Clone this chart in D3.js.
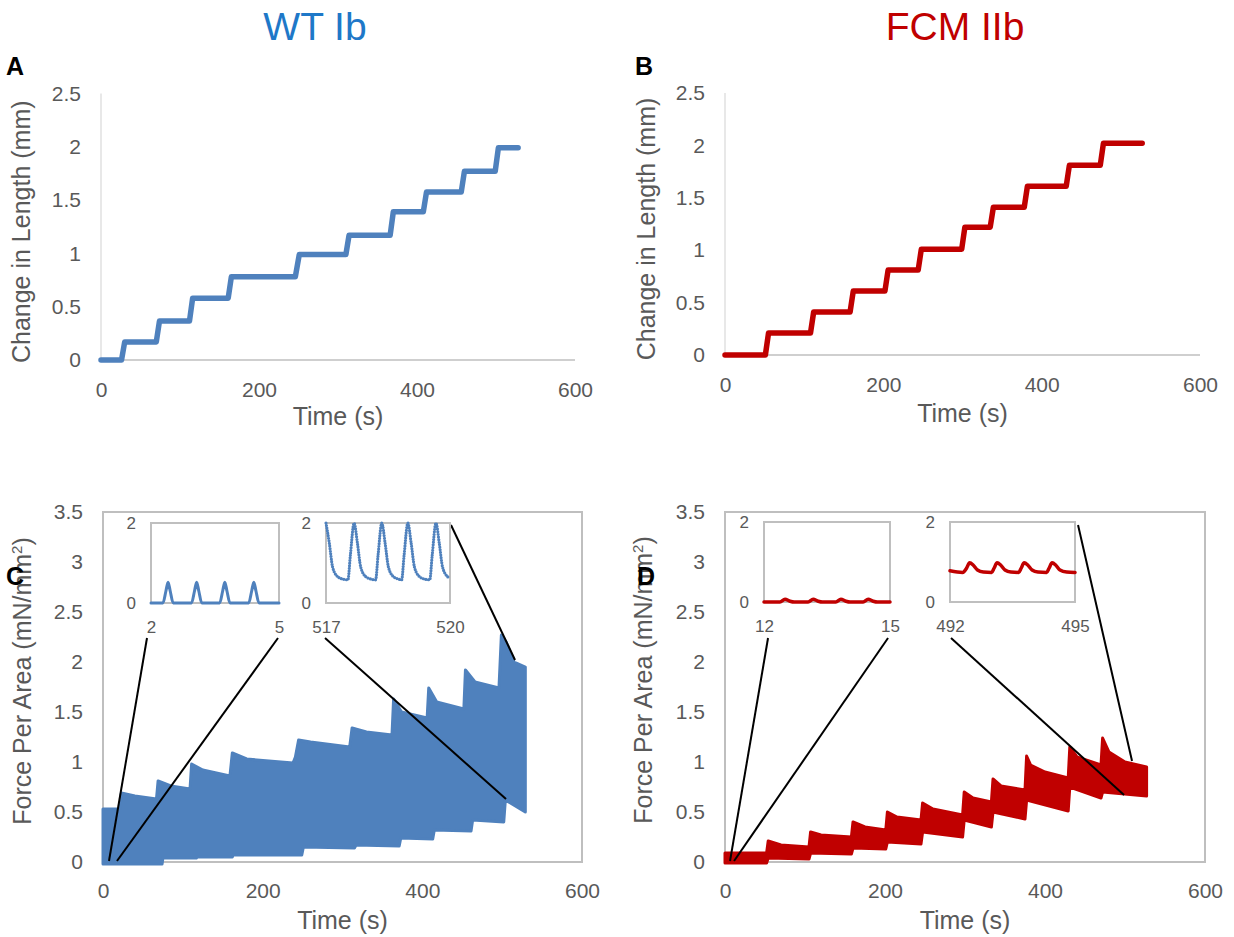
<!DOCTYPE html>
<html><head><meta charset="utf-8">
<script src="https://cdn.jsdelivr.net/npm/d3@7"></script>
<style>
body{margin:0;background:#fff;}
svg text{font-family:"Liberation Sans",Arial,sans-serif;}
</style>
</head><body>
<svg id="fig" width="1234" height="937"></svg>
<script>
// ---------------- DATA ----------------
const timeTicks = [0, 200, 400, 600];
const lengthTicks = [0, 0.5, 1, 1.5, 2, 2.5];
const forceTicks = [0, 0.5, 1, 1.5, 2, 2.5, 3, 3.5];

// Change in length (mm) vs time (s) – step protocol vertices
const wtLengthT = [0, 26, 30, 70, 74, 112, 116, 161, 165, 246, 251, 310, 314, 366, 370, 408, 412, 456, 460, 499, 503, 528];
const wtLengthV = [0, 0, 0.17, 0.17, 0.365, 0.365, 0.58, 0.58, 0.78, 0.78, 0.99, 0.99, 1.17, 1.17, 1.39, 1.39, 1.575, 1.575, 1.77, 1.77, 1.99, 1.99];
const fcmLengthT = [0, 51, 55, 108, 112, 158, 162, 202, 206, 244, 248, 299, 303, 335, 339, 378, 382, 431, 435, 474, 478, 527];
const fcmLengthV = [0, 0, 0.21, 0.21, 0.41, 0.41, 0.61, 0.61, 0.81, 0.81, 1.01, 1.01, 1.22, 1.22, 1.41, 1.41, 1.61, 1.61, 1.81, 1.81, 2.02, 2.02];

// Force per area envelopes (upper = twitch peaks, lower = troughs)
const wtUpperT = [0, 21, 23, 40, 67, 69, 85, 109, 111, 125, 159, 162, 180, 238, 241, 245, 260, 309, 312, 330, 362, 364, 374, 406, 408, 418, 452, 454, 466, 496, 499, 505, 515, 529];
const wtUpperV = [0.53, 0.53, 0.69, 0.66, 0.63, 0.81, 0.76, 0.73, 0.98, 0.92, 0.86, 1.09, 1.03, 0.99, 1.05, 1.22, 1.2, 1.15, 1.34, 1.3, 1.27, 1.63, 1.5, 1.44, 1.74, 1.6, 1.53, 1.92, 1.8, 1.74, 2.27, 2.2, 2.0, 1.95];
const wtLowerT = [0, 74, 75, 117, 118, 162, 163, 249, 251, 315, 317, 371, 373, 413, 415, 461, 463, 502, 504, 529];
const wtLowerV = [-0.02, -0.02, 0.04, 0.04, 0.05, 0.05, 0.07, 0.07, 0.15, 0.14, 0.17, 0.16, 0.24, 0.23, 0.32, 0.31, 0.42, 0.4, 0.62, 0.5];

const fcmUpperT = [0, 52, 54, 70, 105, 107, 120, 158, 160, 175, 201, 203, 215, 245, 247, 260, 297, 299, 310, 333, 335, 345, 375, 377, 382, 400, 429, 431, 440, 470, 472, 480, 500, 527];
const fcmUpperV = [0.09, 0.09, 0.21, 0.17, 0.15, 0.3, 0.27, 0.25, 0.4, 0.35, 0.32, 0.5, 0.45, 0.42, 0.59, 0.53, 0.47, 0.7, 0.64, 0.6, 0.83, 0.76, 0.72, 1.06, 0.97, 0.9, 0.84, 1.15, 1.05, 0.97, 1.24, 1.1, 1.0, 0.95];
const fcmLowerT = [0, 52, 54, 105, 107, 158, 160, 201, 203, 245, 247, 297, 299, 333, 335, 375, 377, 429, 431, 470, 472, 527];
const fcmLowerV = [-0.01, -0.01, 0.04, 0.03, 0.09, 0.08, 0.14, 0.13, 0.2, 0.18, 0.3, 0.25, 0.42, 0.35, 0.5, 0.43, 0.62, 0.51, 0.75, 0.64, 0.7, 0.66];

// Inset traces (zoomed windows)
const wtInset1T = [2.0, 2.28, 2.35, 2.40, 2.45, 2.52, 2.95, 3.02, 3.07, 3.12, 3.19, 3.61, 3.68, 3.73, 3.78, 3.85, 4.29, 4.36, 4.41, 4.46, 4.53, 5.0];
const wtInset1V = [0, 0, 0.3, 0.52, 0.3, 0, 0, 0.3, 0.52, 0.3, 0, 0, 0.3, 0.52, 0.3, 0, 0, 0.3, 0.52, 0.3, 0, 0];
const wtInset2T = [517.00, 517.08, 517.16, 517.28, 517.40, 517.53, 517.59, 517.68, 517.76, 517.84, 517.96, 518.08, 518.20, 518.26, 518.35, 518.43, 518.51, 518.63, 518.75, 518.83, 518.89, 518.98, 519.06, 519.14, 519.26, 519.38, 519.51, 519.57, 519.66, 519.74, 519.82, 519.94, 520.0];
const wtInset2V = [2.0, 1.5, 0.9, 0.66, 0.6, 0.58, 1.2, 2.0, 1.5, 0.9, 0.66, 0.6, 0.58, 1.2, 2.0, 1.5, 0.9, 0.66, 0.6, 0.58, 1.2, 2.0, 1.5, 0.9, 0.66, 0.6, 0.58, 1.2, 2.0, 1.5, 0.9, 0.66, 0.62];
const fcmInset1T = [12.0, 12.38, 12.50, 12.62, 12.72, 13.05, 13.17, 13.29, 13.39, 13.71, 13.83, 13.95, 14.05, 14.36, 14.48, 14.60, 14.70, 15.0];
const fcmInset1V = [0.0, 0.0, 0.07, 0.02, 0.0, 0.0, 0.07, 0.02, 0.0, 0.0, 0.07, 0.02, 0.0, 0.0, 0.07, 0.02, 0.0, 0.0];
const fcmInset2T = [492.0, 492.3, 492.4, 492.47, 492.56, 492.66, 492.8, 493.0, 493.06, 493.13, 493.22, 493.32, 493.46, 493.65, 493.71, 493.78, 493.87, 493.97, 494.11, 494.32, 494.38, 494.45, 494.54, 494.64, 494.8, 495.0];
const fcmInset2V = [0.78, 0.74, 0.85, 0.98, 0.92, 0.8, 0.75, 0.74, 0.85, 0.98, 0.92, 0.8, 0.75, 0.74, 0.85, 0.98, 0.92, 0.8, 0.75, 0.74, 0.85, 0.98, 0.92, 0.8, 0.75, 0.74];
const insetYTicks = [0, 2];

// Zoom connectors in main-chart data units
const wtConnFromT = [55.1, 219.2, 278.1, 435.9];
const wtConnFromV = [2.24, 2.24, 2.24, 3.37];
const wtConnToT = [7.5, 17.5, 504.8, 516.1];
const wtConnToV = [0.01, 0.01, 0.63, 2.02];
const fcmConnFromT = [53.8, 203.8, 282.5, 441.3];
const fcmConnFromV = [2.24, 2.24, 2.24, 3.37];
const fcmConnToT = [6.3, 11.3, 498.8, 508.8];
const fcmConnToV = [0.01, 0.01, 0.67, 1.01];

// ---------------- STYLE / LAYOUT ----------------
const BLUE = "#4f81bd", RED = "#c00000";
const TXT = "#595959", GRID = "#bfbfbf";
const svg = d3.select("#fig");
const zip = (a, b) => a.map((v, i) => [v, b[i]]);

function styleAxis(g, size) {
  g.select(".domain").remove();
  g.selectAll("text").attr("fill", TXT).style("font-size", size + "px");
}

function lengthPanel(o) {
  const x = d3.scaleLinear().domain([0, 600]).range([o.x0, o.x1]);
  const y = d3.scaleLinear().domain([0, 2.5]).range([o.y0, o.y1]);
  const g = svg.append("g");
  g.append("line").attr("x1", o.x0).attr("x2", o.x0).attr("y1", y(2.5)).attr("y2", y(0))
    .attr("stroke", "#d9d9d9").attr("stroke-width", 1.2);
  g.append("line").attr("x1", o.x0).attr("x2", o.x1).attr("y1", y(0)).attr("y2", y(0))
    .attr("stroke", GRID).attr("stroke-width", 1.5);
  g.append("g").attr("transform", `translate(0,${o.y0})`)
    .call(d3.axisBottom(x).tickValues(timeTicks).tickSize(0).tickPadding(22))
    .call(a => styleAxis(a, 21));
  g.append("g").attr("transform", `translate(${o.x0},0)`)
    .call(d3.axisLeft(y).tickValues(lengthTicks).tickSize(0).tickPadding(20).tickFormat(d3.format("")))
    .call(a => styleAxis(a, 21));
  g.append("path").datum(zip(o.t, o.v))
    .attr("d", d3.line().x(d => x(d[0])).y(d => y(d[1])))
    .attr("fill", "none").attr("stroke", o.color).attr("stroke-width", 5.5)
    .attr("stroke-linecap", "round").attr("stroke-linejoin", "round");
  g.append("text").attr("x", (o.x0 + o.x1) / 2).attr("y", o.y0 + o.tTitle)
    .attr("text-anchor", "middle").attr("fill", TXT).style("font-size", "25px").text("Time (s)");
  g.append("text").attr("transform", `translate(${o.yTitleX},${(y(0) + y(2.5)) / 2 + 5}) rotate(-90)`)
    .attr("text-anchor", "middle").attr("fill", TXT).style("font-size", "25px").text("Change in Length (mm)");
}

function forcePanel(o) {
  const x = d3.scaleLinear().domain([0, 600]).range([o.x0, o.x1]);
  const y = d3.scaleLinear().domain([0, 3.5]).range([o.y0, o.y1]);
  const g = svg.append("g");
  g.append("rect").attr("x", o.x0).attr("y", y(3.5)).attr("width", o.x1 - o.x0).attr("height", y(0) - y(3.5))
    .attr("fill", "none").attr("stroke", GRID).attr("stroke-width", 2);
  g.append("g").attr("transform", `translate(0,${o.y0})`)
    .call(d3.axisBottom(x).tickValues(timeTicks).tickSize(0).tickPadding(21))
    .call(a => styleAxis(a, 21));
  g.append("g").attr("transform", `translate(${o.x0},0)`)
    .call(d3.axisLeft(y).tickValues(forceTicks).tickSize(0).tickPadding(20).tickFormat(d3.format("")))
    .call(a => styleAxis(a, 21));
  const poly = zip(o.ut, o.uv).concat(zip(o.lt, o.lv).reverse());
  g.append("path")
    .attr("d", d3.line().x(d => x(d[0])).y(d => y(d[1]))(poly) + "Z")
    .attr("fill", o.color).attr("stroke", o.color).attr("stroke-width", 3).attr("stroke-linejoin", "round");
  o.cft.forEach((t, i) => {
    g.append("line").attr("x1", x(t)).attr("y1", y(o.cfv[i])).attr("x2", x(o.ctt[i])).attr("y2", y(o.ctv[i]))
      .attr("stroke", "#000").attr("stroke-width", 2);
  });
  o.insets.forEach(ins => {
    const ix = d3.scaleLinear().domain([ins.t[0], ins.t[ins.t.length - 1]]).range([ins.bx0, ins.bx1]);
    const iy = d3.scaleLinear().domain([0, 2]).range([ins.by1, ins.by0]);
    const ig = g.append("g");
    ig.append("rect").attr("x", ins.bx0).attr("y", ins.by0).attr("width", ins.bx1 - ins.bx0).attr("height", ins.by1 - ins.by0)
      .attr("fill", "#fff").attr("stroke", GRID).attr("stroke-width", 2);
    ig.append("g").attr("transform", `translate(${ins.bx0},0)`)
      .call(d3.axisLeft(iy).tickValues(insetYTicks).tickSize(0).tickPadding(15).tickFormat(d3.format("d")))
      .call(a => styleAxis(a, 17));
    ig.append("g").attr("transform", `translate(0,${ins.by1})`)
      .call(d3.axisBottom(ix).tickValues([ins.t[0], ins.t[ins.t.length - 1]]).tickSize(0).tickPadding(18).tickFormat(d3.format("d")))
      .call(a => styleAxis(a, 17));
    ig.append("path").datum(zip(ins.t, ins.v))
      .attr("d", d3.line().curve(d3.curveMonotoneX).x(d => ix(d[0])).y(d => iy(d[1])))
      .attr("fill", "none").attr("stroke", o.color).attr("stroke-width", ins.w)
      .attr("stroke-linecap", "round").attr("stroke-linejoin", "round")
      .attr("stroke-dasharray", ins.dash || null);
  });
  g.append("text").attr("x", (o.x0 + o.x1) / 2).attr("y", o.y0 + 67)
    .attr("text-anchor", "middle").attr("fill", TXT).style("font-size", "25px").text("Time (s)");
  const yt = g.append("text").attr("transform", `translate(${o.yTitleX},${o.yTitleY}) rotate(-90)`)
    .attr("text-anchor", "middle").attr("fill", TXT).style("font-size", "25px");
  yt.append("tspan").text("Force Per Area (mN/mm");
  yt.append("tspan").attr("dy", -9).style("font-size", "15px").text("2");
  yt.append("tspan").attr("dy", 9).text(")");
}

// titles & panel letters
svg.append("text").attr("x", 315).attr("y", 40).attr("text-anchor", "middle")
  .attr("fill", "#1e78c8").style("font-size", "39px").text("WT Ib");
svg.append("text").attr("x", 955).attr("y", 40).attr("text-anchor", "middle")
  .attr("fill", RED).style("font-size", "39px").text("FCM IIb");

lengthPanel({x0: 101, x1: 575, y0: 360, y1: 93.5, t: wtLengthT, v: wtLengthV, color: BLUE, tTitle: 65, yTitleX: 30});
lengthPanel({x0: 725, x1: 1200, y0: 355, y1: 93, t: fcmLengthT, v: fcmLengthV, color: RED, tTitle: 67, yTitleX: 655});

forcePanel({x0: 103, x1: 582, y0: 862, y1: 512, ut: wtUpperT, uv: wtUpperV, lt: wtLowerT, lv: wtLowerV, color: BLUE,
  cft: wtConnFromT, cfv: wtConnFromV, ctt: wtConnToT, ctv: wtConnToV, yTitleX: 31, yTitleY: 681,
  insets: [
    {t: wtInset1T, v: wtInset1V, bx0: 151, bx1: 279, by0: 523, by1: 603, w: 3},
    {t: wtInset2T, v: wtInset2V, bx0: 326, bx1: 450, by0: 523, by1: 603, w: 3.2, dash: "0 2.6"}
  ]});
forcePanel({x0: 725, x1: 1205, y0: 862, y1: 512, ut: fcmUpperT, uv: fcmUpperV, lt: fcmLowerT, lv: fcmLowerV, color: RED,
  cft: fcmConnFromT, cfv: fcmConnFromV, ctt: fcmConnToT, ctv: fcmConnToV, yTitleX: 652, yTitleY: 680,
  insets: [
    {t: fcmInset1T, v: fcmInset1V, bx0: 764, bx1: 890, by0: 522, by1: 602, w: 3.5},
    {t: fcmInset2T, v: fcmInset2V, bx0: 950, bx1: 1075, by0: 522, by1: 602, w: 3.5}
  ]});

[["A", 6, 75], ["B", 635, 75], ["C", 6, 585], ["D", 637, 585]].forEach(([l, lx, ly]) =>
  svg.append("text").attr("x", lx).attr("y", ly).attr("fill", "#000").style("font-size", "25px")
    .style("font-weight", "bold").text(l));
</script>
</body></html>
